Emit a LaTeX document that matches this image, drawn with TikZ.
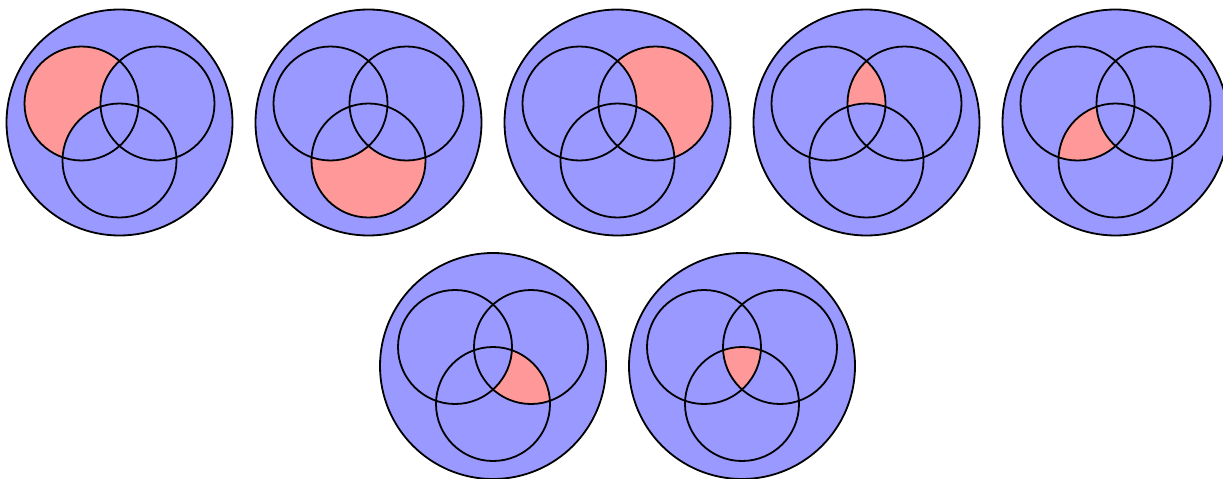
\documentclass[tikz,border=0pt]{standalone}
\usetikzlibrary{calc}
\begin{document}
\begin{tikzpicture}[x=1pt,y=-1pt,
  outerc/.style={fill=blue!40,draw=black,line width=1.8pt},
  innerc/.style={draw=black,line width=1.8pt},
  hl/.style={fill=red!40},
  bg/.style={fill=blue!40}]
\useasboundingbox (0,0) rectangle (1223,479);
\def\CA{(-38,-19) circle[radius=57pt]}
\def\CB{(38,-19) circle[radius=57pt]}
\def\CC{(0,38) circle[radius=57pt]}
% type 1: A only
\begin{scope}[shift={(119.5,122.5)}]
  \draw[outerc] (0,0) circle[radius=113pt];
  \begin{scope}\clip \CA; \fill[hl] \CA; \fill[bg] \CB; \fill[bg] \CC; \end{scope}
  \draw[innerc] \CA; \draw[innerc] \CB; \draw[innerc] \CC;
\end{scope}
% type 2: C only
\begin{scope}[shift={(368.5,122.5)}]
  \draw[outerc] (0,0) circle[radius=113pt];
  \begin{scope}\clip \CC; \fill[hl] \CC; \fill[bg] \CA; \fill[bg] \CB; \end{scope}
  \draw[innerc] \CA; \draw[innerc] \CB; \draw[innerc] \CC;
\end{scope}
% type 3: B only
\begin{scope}[shift={(617.5,122.5)}]
  \draw[outerc] (0,0) circle[radius=113pt];
  \begin{scope}\clip \CB; \fill[hl] \CB; \fill[bg] \CA; \fill[bg] \CC; \end{scope}
  \draw[innerc] \CA; \draw[innerc] \CB; \draw[innerc] \CC;
\end{scope}
% type 4: A and B not C
\begin{scope}[shift={(866.5,122.5)}]
  \draw[outerc] (0,0) circle[radius=113pt];
  \begin{scope}\clip \CA; \clip \CB; \fill[hl] \CA; \fill[bg] \CC; \end{scope}
  \draw[innerc] \CA; \draw[innerc] \CB; \draw[innerc] \CC;
\end{scope}
% type 5: A and C not B
\begin{scope}[shift={(1115.5,122.5)}]
  \draw[outerc] (0,0) circle[radius=113pt];
  \begin{scope}\clip \CA; \clip \CC; \fill[hl] \CA; \fill[bg] \CB; \end{scope}
  \draw[innerc] \CA; \draw[innerc] \CB; \draw[innerc] \CC;
\end{scope}
% type 6: B and C not A
\begin{scope}[shift={(493,366)}]
  \draw[outerc] (0,0) circle[radius=113pt];
  \begin{scope}\clip \CB; \clip \CC; \fill[hl] \CB; \fill[bg] \CA; \end{scope}
  \draw[innerc] \CA; \draw[innerc] \CB; \draw[innerc] \CC;
\end{scope}
% type 7: A and B and C
\begin{scope}[shift={(742,366)}]
  \draw[outerc] (0,0) circle[radius=113pt];
  \begin{scope}\clip \CA; \clip \CB; \clip \CC; \fill[hl] \CA; \end{scope}
  \draw[innerc] \CA; \draw[innerc] \CB; \draw[innerc] \CC;
\end{scope}
\end{tikzpicture}
\end{document}
